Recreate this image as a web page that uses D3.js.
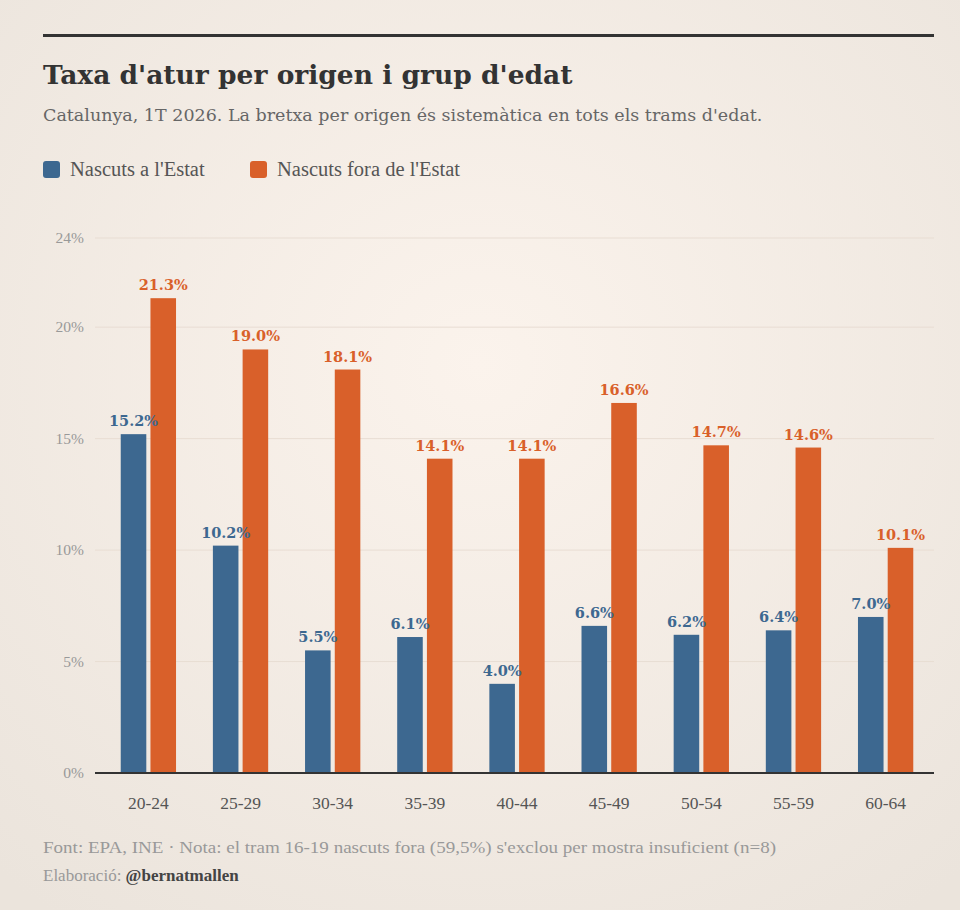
<!DOCTYPE html>
<html><head><meta charset="utf-8">
<script src="https://cdn.jsdelivr.net/npm/d3@7"></script>
<style>
body{margin:0;background:#f6eee6;}
svg{display:block;}
</style></head><body>
<svg id="chart"></svg>
<script>
const groups = ["20-24","25-29","30-34","35-39","40-44","45-49","50-54","55-59","60-64"];
const nativeVals = [15.2,10.2,5.5,6.1,4.0,6.6,6.2,6.4,7.0];
const foreignVals = [21.3,19.0,18.1,14.1,14.1,16.6,14.7,14.6,10.1];
const seriesNames = ["Nascuts a l'Estat","Nascuts fora de l'Estat"];
const yTicks = [0,5,10,15,20,24];

const W = 960, H = 910;
const BLUE = "#3d6890", ORANGE = "#d9602a";
const serif = "Georgia, 'DejaVu Serif', serif";
const lib = "'Liberation Serif', serif";
const svg = d3.select("#chart").attr("width", W).attr("height", H);

const defs = svg.append("defs");
const grad = defs.append("radialGradient").attr("id","bg").attr("cx","50%").attr("cy","40%").attr("r","75%");
grad.append("stop").attr("offset","0%").attr("stop-color","#fbf3ec");
grad.append("stop").attr("offset","100%").attr("stop-color","#ebe4dc");
svg.append("rect").attr("width",W).attr("height",H).attr("fill","url(#bg)");

svg.append("rect").attr("x",43).attr("y",34).attr("width",891).attr("height",3).attr("fill","#333");
svg.append("text").attr("x",43).attr("y",84).attr("font-family",serif).attr("font-weight","bold")
  .attr("font-size",26.5).attr("fill","#333").text("Taxa d'atur per origen i grup d'edat");
svg.append("text").attr("x",43).attr("y",121).attr("font-family",serif).attr("font-size",17.5)
  .attr("fill","#666").text("Catalunya, 1T 2026. La bretxa per origen és sistemàtica en tots els trams d'edat.");

const legX = [43, 250];
seriesNames.forEach((n,i) => {
  const g = svg.append("g").attr("transform",`translate(${legX[i]},161)`);
  g.append("rect").attr("width",17).attr("height",17).attr("rx",3).attr("fill",i?ORANGE:BLUE);
  g.append("text").attr("x",27).attr("y",15).attr("font-family",lib)
    .attr("font-size",20.5).attr("fill","#555").text(n);
});

const x = d3.scaleBand().domain(groups).range([100,934]).paddingInner(0.4).paddingOuter(0.225);
const xs = d3.scaleBand().domain([0,1]).range([0,x.bandwidth()]).paddingInner(0.14);
const y = d3.scaleLinear().domain([0,24]).range([773,238]);

const grid = svg.append("g");
yTicks.forEach(t => {
  if (t>0) grid.append("line").attr("x1",95).attr("x2",934).attr("y1",y(t)).attr("y2",y(t))
    .attr("stroke","#e8ddd3").attr("stroke-width",1);
  grid.append("text").attr("x",84).attr("y",y(t)+5).attr("text-anchor","end")
    .attr("font-family",lib).attr("font-size",15.5).attr("fill","#999").text(t+"%");
});

const data = groups.map((g,i) => ({g, vals:[nativeVals[i], foreignVals[i]]}));
const gg = svg.append("g").selectAll("g").data(data).join("g")
  .attr("transform", d => `translate(${x(d.g)},0)`);
gg.selectAll("rect").data(d => d.vals).join("rect")
  .attr("x",(d,i)=>xs(i)).attr("width",xs.bandwidth())
  .attr("y",d=>y(d)).attr("height",d=>y(0)-y(d))
  .attr("fill",(d,i)=>i?ORANGE:BLUE);
gg.selectAll("text").data(d => d.vals).join("text")
  .attr("x",(d,i)=>xs(i)+xs.bandwidth()/2).attr("y",d=>y(d)-8)
  .attr("text-anchor","middle").attr("font-family",serif).attr("font-weight","bold")
  .attr("font-size",14.5).attr("fill",(d,i)=>i?ORANGE:BLUE).text(d=>d.toFixed(1)+"%");

svg.append("line").attr("x1",95).attr("x2",934).attr("y1",y(0)).attr("y2",y(0))
  .attr("stroke","#333").attr("stroke-width",2);

const xAxis = svg.append("g").attr("transform",`translate(0,${y(0)})`)
  .call(d3.axisBottom(x).tickSize(0).tickPadding(24));
xAxis.select(".domain").remove();
xAxis.selectAll("text").attr("font-family",lib).attr("font-size",17.5).attr("fill","#555");

svg.append("text").attr("x",43).attr("y",853).attr("font-family",lib)
  .attr("font-size",17).attr("fill","#999").attr("textLength",733).attr("lengthAdjust","spacingAndGlyphs")
  .text("Font: EPA, INE · Nota: el tram 16-19 nascuts fora (59,5%) s'exclou per mostra insuficient (n=8)");
const cr = svg.append("text").attr("x",43).attr("y",881).attr("font-family",lib)
  .attr("font-size",17).attr("fill","#999").text("Elaboració: ");
cr.append("tspan").attr("font-weight","bold").attr("fill","#444").text("@bernatmallen");
</script>
</body></html>
